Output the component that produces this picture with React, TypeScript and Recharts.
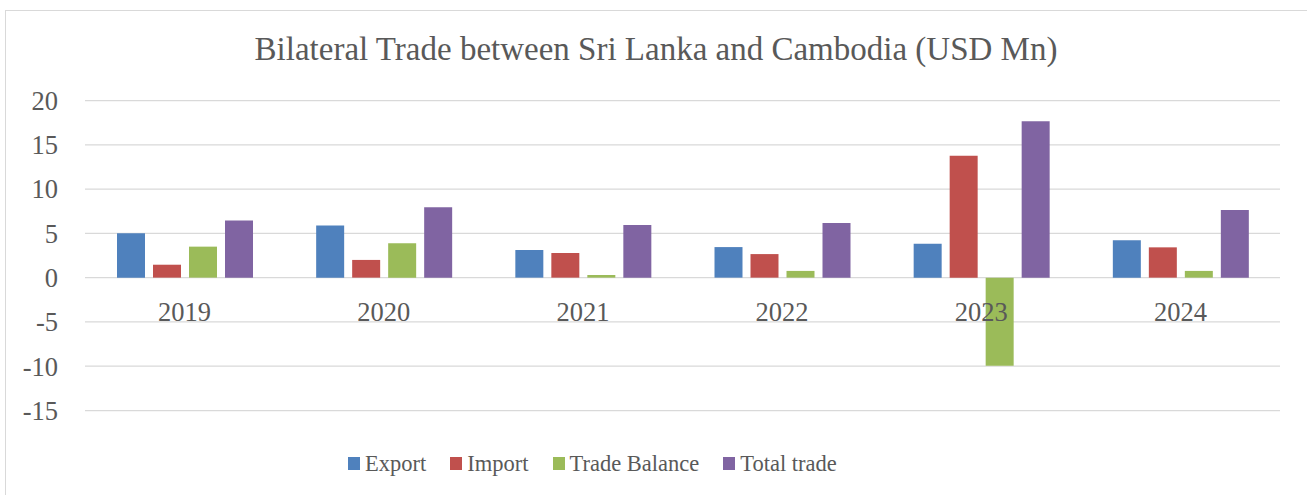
import { BarChart, Bar, XAxis, YAxis, CartesianGrid, Legend } from "recharts";

const years = ["2019", "2020", "2021", "2022", "2023", "2024"];
const exportValues = [5.0, 5.9, 3.12, 3.45, 3.83, 4.21];
const importValues = [1.46, 2.0, 2.78, 2.66, 13.76, 3.42];
const tradeBalanceValues = [3.5, 3.88, 0.3, 0.76, -9.95, 0.76];
const totalTradeValues = [6.44, 7.94, 5.94, 6.18, 17.65, 7.65];
const yTicks = [-15, -10, -5, 0, 5, 10, 15, 20];

const seriesList = [
  { key: "export", name: "Export", color: "#4F81BD" },
  { key: "import", name: "Import", color: "#C0504D" },
  { key: "balance", name: "Trade Balance", color: "#9BBB59" },
  { key: "total", name: "Total trade", color: "#8064A2" },
];

const FONT = '"Liberation Serif", "Times New Roman", serif';
const TEXT = "#595959";
const GRID = "#d9d9d9";

const W = 1307;
const H = 495;
const PLOT_TOP = 100.5;
const PLOT_BOTTOM = 410.5;
const Y_MIN = -15;
const Y_MAX = 20;
// y of the zero line, so the category labels sit just under it like in Excel
const ZERO_Y = PLOT_TOP + ((PLOT_BOTTOM - PLOT_TOP) * Y_MAX) / (Y_MAX - Y_MIN);

const rows = years.map((year, i) => ({
  year,
  export: exportValues[i],
  import: importValues[i],
  balance: tradeBalanceValues[i],
  total: totalTradeValues[i],
}));

const CategoryTick = ({ x, payload }: any) => (
  <text
    x={x}
    y={ZERO_Y + 43}
    textAnchor="middle"
    fontSize={26.5}
    fontFamily={FONT}
    fill={TEXT}
  >
    {payload.value}
  </text>
);

const LegendContent = () => (
  <div style={{ display: "flex", alignItems: "center", height: 22.5 }}>
    {seriesList.map((s, i) => (
      <div
        key={s.key}
        style={{
          display: "flex",
          alignItems: "center",
          marginLeft: i === 0 ? 0 : 24,
        }}
      >
        <span
          style={{ width: 12, height: 13, background: s.color, display: "inline-block" }}
        />
        <span
          style={{
            marginLeft: 5,
            fontSize: 22.5,
            lineHeight: "22.5px",
            fontFamily: FONT,
            color: TEXT,
            whiteSpace: "nowrap",
          }}
        >
          {s.name}
        </span>
      </div>
    ))}
  </div>
);

export default function App() {
  return (
    <div
      style={{
        position: "absolute",
        left: 0,
        top: 0,
        width: W,
        height: H,
        overflow: "hidden",
        background: "#fff",
        fontFamily: FONT,
      }}
    >
      <div
        style={{
          position: "absolute",
          left: 5,
          top: 10,
          width: W + 20,
          height: H + 20,
          border: `1px solid ${GRID}`,
          boxSizing: "border-box",
        }}
      />
      <div
        style={{
          position: "absolute",
          left: 0,
          top: 33.4,
          width: 1312,
          textAlign: "center",
          fontSize: 33,
          lineHeight: "33px",
          color: TEXT,
          whiteSpace: "nowrap",
        }}
      >
        Bilateral Trade between Sri Lanka and Cambodia (USD Mn)
      </div>
      <div style={{ position: "absolute", left: 0, top: 0 }}>
        <BarChart
          width={W}
          height={H}
          data={rows}
          margin={{ top: PLOT_TOP, right: 27, bottom: H - PLOT_BOTTOM - 30, left: 0 }}
          barSize={28}
          barGap={8}
        >
          <CartesianGrid vertical={false} stroke={GRID} strokeWidth={1.25} />
          <XAxis
            dataKey="year"
            axisLine={false}
            tickLine={false}
            height={30}
            tick={<CategoryTick />}
          />
          <YAxis
            domain={[Y_MIN, Y_MAX]}
            ticks={yTicks}
            interval={0}
            width={85}
            axisLine={false}
            tickLine={false}
            tickSize={0}
            tickMargin={27}
            tick={{ fill: TEXT, fontSize: 26.5, fontFamily: FONT }}
          />
          <Legend
            layout="horizontal"
            verticalAlign="middle"
            align="center"
            wrapperStyle={{ top: 452.5, left: 348, width: "auto" }}
            content={<LegendContent />}
          />
          {seriesList.map((s) => (
            <Bar
              key={s.key}
              dataKey={s.key}
              name={s.name}
              fill={s.color}
              isAnimationActive={false}
            />
          ))}
        </BarChart>
      </div>
    </div>
  );
}
